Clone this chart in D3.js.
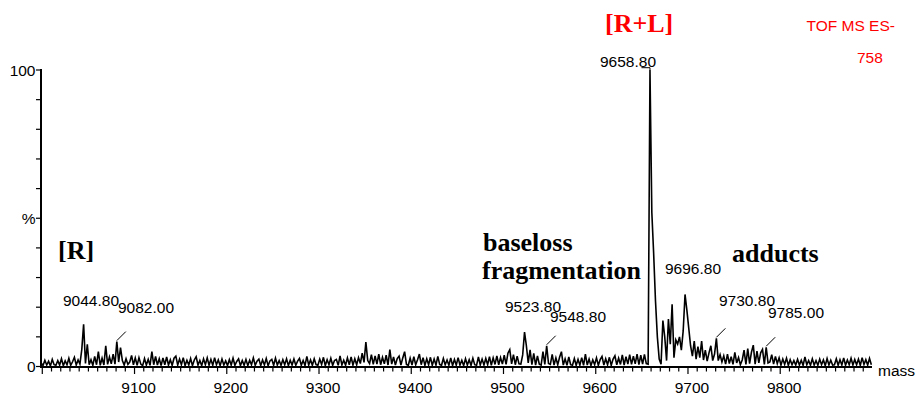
<!DOCTYPE html>
<html><head><meta charset="utf-8">
<script src="https://cdn.jsdelivr.net/npm/d3@7"></script>
<style>
html,body{margin:0;padding:0;background:#fff;}
svg{display:block;}
</style>
</head><body>
<svg id="chart" width="916" height="395"></svg>
<script>
// ---- data ----
const massStart = 8998.8;   // m/z of first sample
const massStep = 2;         // sampling step
const intensity = [
 1.2,0.3,2.1,0.5,1.8,0.2,2.4,0.6,0.4,2.0,
 0.5,2.6,0.3,1.9,0.6,2.8,0.4,1.6,3.1,0.5,
 2.2,0.8,5.7,14.2,1.0,7.5,0.6,2.3,0.4,3.4,
 0.6,5.0,0.4,2.8,0.5,7.0,0.7,3.2,0.9,4.2,
 0.8,8.4,1.5,6.4,2.0,0.5,2.6,0.7,1.5,3.7,
 0.6,2.9,0.4,3.0,0.8,0.3,2.7,0.5,2.4,0.4,
 5.0,0.6,3.4,0.5,2.6,0.3,2.9,0.6,3.2,0.5,
 2.3,0.4,2.8,3.5,0.5,2.5,0.6,3.0,0.3,2.1,
 0.5,2.7,0.3,2.2,3.3,0.5,2.0,0.3,2.6,0.6,
 2.9,0.4,2.4,0.4,3.0,0.6,2.2,0.3,2.5,0.5,
 1.9,0.3,2.3,0.5,2.8,0.4,1.7,2.6,0.3,2.0,
 0.4,2.4,0.3,2.1,0.6,2.9,0.4,1.8,2.5,0.3,
 2.2,0.5,2.7,0.3,1.9,2.4,0.4,2.8,0.5,2.0,
 0.4,2.3,0.6,2.6,0.3,2.1,0.5,2.5,0.4,1.8,
 2.7,0.4,2.0,0.3,3.4,0.5,2.2,0.4,2.6,0.6,
 0.4,2.5,0.7,3.1,0.3,2.3,0.6,2.8,0.4,2.0,
 2.4,0.4,3.6,0.5,2.1,0.4,2.9,0.6,3.2,0.5,
 2.6,0.6,3.0,1.0,4.5,1.4,8.2,2.0,1.0,4.0,
 0.7,3.6,0.8,4.2,0.6,3.1,0.9,3.8,0.5,5.7,
 0.8,3.2,0.5,2.7,3.5,0.5,2.9,5.0,0.7,0.4,
 2.8,0.5,3.3,0.6,2.3,4.2,0.6,3.0,0.4,2.6,
 0.6,3.1,0.4,2.5,0.5,3.4,0.7,0.4,2.7,0.6,
 2.2,0.4,2.9,0.3,2.4,0.5,3.0,0.5,2.1,0.3,
 2.6,0.5,2.3,0.4,2.8,0.6,0.4,3.2,0.5,2.5,
 0.5,2.7,0.6,3.3,0.4,2.9,0.7,3.6,0.6,3.0,
 0.8,3.8,0.7,4.5,5.7,0.9,4.0,0.6,3.5,0.9,
 0.8,3.9,11.6,7.0,1.2,5.6,0.6,4.4,0.5,3.6,
 0.8,0.5,5.0,0.7,7.0,1.0,0.7,4.1,0.5,2.9,
 0.6,3.1,5.0,0.5,2.6,0.4,3.2,0.6,0.4,2.7,
 0.4,2.4,0.5,3.0,0.4,4.2,0.5,2.5,0.3,2.2,
 0.6,2.9,0.4,2.3,3.4,0.5,2.6,0.6,3.1,0.4,
 2.5,3.6,0.6,2.8,0.7,3.9,0.5,3.3,0.8,4.0,
 0.7,3.5,0.9,4.2,0.6,3.8,0.8,4.1,1.0,0.8,
 100,52,38,22,10,2.5,0.8,15.5,10.0,2.0,
 16.0,7.5,21.0,3.0,9.0,7.6,10.0,5.5,12.0,24.3,
 19.0,13.0,7.0,3.5,8.6,2.5,6.7,3.0,8.6,2.2,
 5.5,1.8,4.6,7.0,2.0,4.2,9.5,2.0,4.0,1.5,
 3.6,0.8,4.2,1.0,3.3,0.7,4.8,1.2,3.0,0.6,
 2.2,5.5,0.7,6.0,1.0,4.8,7.2,0.8,5.2,1.2,
 4.6,5.8,0.7,6.5,1.2,1.5,4.0,0.8,3.4,1.0,
 2.9,0.5,2.5,0.7,2.8,0.4,2.3,0.6,2.0,0.5,
 2.4,0.5,2.1,0.4,3.2,0.6,2.0,0.4,2.6,0.5,
 2.0,0.4,2.5,0.6,2.2,0.3,2.7,0.5,2.1,0.5,
 0.6,2.6,0.4,2.3,0.5,2.9,0.4,2.2,0.6,2.8,
 0.5,2.4,0.6,2.5,0.4,3.0,0.7,2.3,0.5,2.7,0.6
];
const xTickLabels = [9100, 9200, 9300, 9400, 9500, 9600, 9700, 9800];
const yTickLabels = ["0", "%", "100"];
const peakMasses = [9044.8, 9082.0, 9523.8, 9548.8, 9658.8, 9696.8, 9730.8, 9785.0];
const peakTexts  = ["9044.80", "9082.00", "9523.80", "9548.80", "9658.80", "9696.80", "9730.80", "9785.00"];
const peakLeaders = [false, true, false, true, false, false, true, true];
const groupTexts = ["[R]", "baseloss", "fragmentation", "adducts"];
const titleTexts = ["[R+L]", "TOF MS ES-", "758"];

// ---- layout ----
const svg = d3.select("#chart");
const x = d3.scaleLinear().domain([8998.6, 9899.5]).range([41, 872]);
const y = d3.scaleLinear().domain([0, 100]).range([366.5, 70]);
const sans = "'Liberation Sans', Arial, sans-serif";
const serif = "'Liberation Serif', 'Times New Roman', serif";

const pts = intensity.map((v, i) => [massStart + i * massStep, v]);

// spectrum
svg.append("path")
  .datum(pts)
  .attr("fill", "none")
  .attr("stroke", "#000")
  .attr("stroke-width", 1.6)
  .attr("stroke-linejoin", "miter")
  .attr("d", d3.line().x(d => x(d[0])).y(d => y(d[1])));

// x axis
const xAxisG = svg.append("g");
xAxisG.append("line").attr("x1", 41).attr("x2", 872).attr("y1", 367).attr("y2", 367)
  .attr("stroke", "#000").attr("stroke-width", 2);
xAxisG.selectAll("line.t").data(d3.range(9000, 9900, 10)).join("line")
  .attr("class", "t")
  .attr("x1", d => x(d)).attr("x2", d => x(d))
  .attr("y1", 367).attr("y2", d => d % 100 === 0 ? 374 : 371.5)
  .attr("stroke", "#000").attr("stroke-width", 1.2);
xAxisG.selectAll("text").data(xTickLabels).join("text")
  .attr("x", d => x(d) + 4).attr("y", 393)
  .attr("text-anchor", "middle")
  .attr("font-family", sans).attr("font-size", 15.5)
  .text(d => d);
svg.append("text").attr("x", 878).attr("y", 376)
  .attr("font-family", sans).attr("font-size", 15.5).text("mass");

// y axis
const yAxisG = svg.append("g");
yAxisG.append("line").attr("x1", 41).attr("x2", 41).attr("y1", 69).attr("y2", 368)
  .attr("stroke", "#000").attr("stroke-width", 2);
yAxisG.selectAll("line.t").data(d3.range(0, 101, 10)).join("line")
  .attr("class", "t")
  .attr("x1", 36).attr("x2", 41)
  .attr("y1", d => y(d)).attr("y2", d => y(d))
  .attr("stroke", "#000").attr("stroke-width", 1.2);
yAxisG.selectAll("text").data([0, 50, 100]).join("text")
  .attr("x", 35.5).attr("y", d => y(d) + 5.5)
  .attr("text-anchor", "end")
  .attr("font-family", sans).attr("font-size", 15.5)
  .text((d, i) => yTickLabels[i]);

// peak labels (text anchor points in px: left x, baseline y)
const peakLabelPos = [[63, 306], [118, 313], [505, 312], [550, 322], [600, 66.5], [665, 274], [719, 306], [768, 317.5]];
// local maximum of the spectrum near a labelled mass
const localMax = m => {
  const near = pts.filter(p => Math.abs(p[0] - m) <= 2.5);
  return near.reduce((a, b) => (b[1] > a[1] ? b : a), near[0]);
};
peakTexts.forEach((t, i) => {
  svg.append("text")
    .attr("x", peakLabelPos[i][0]).attr("y", peakLabelPos[i][1])
    .attr("font-family", sans).attr("font-size", 15.5)
    .text(t);
  if (peakLeaders[i]) {
    const p = localMax(peakMasses[i]);
    const px = x(p[0]), py = y(p[1]);
    svg.append("line")
      .attr("x1", px).attr("y1", py - 1)
      .attr("x2", px + 9).attr("y2", py - 10)
      .attr("stroke", "#000").attr("stroke-width", 1);
  }
});
// main peak bracket
{
  const px = x(peakMasses[4]);
  svg.append("path")
    .attr("d", `M${px - 8.5},67.7H${px}V${y(100)}`)
    .attr("fill", "none").attr("stroke", "#000").attr("stroke-width", 1);
}

// group annotations
const groupPos = [[58, 259], [483, 251], [482, 279], [732, 262]];
groupTexts.forEach((t, i) => {
  svg.append("text")
    .attr("x", groupPos[i][0]).attr("y", groupPos[i][1])
    .attr("font-family", serif).attr("font-weight", "bold").attr("font-size", 26)
    .text(t);
});

// title annotations (red)
svg.append("text").attr("x", 605).attr("y", 31.5)
  .attr("font-family", serif).attr("font-weight", "bold").attr("font-size", 26)
  .attr("fill", "#ff0000").text(titleTexts[0]);
svg.append("text").attr("x", 806.5).attr("y", 31)
  .attr("font-family", sans).attr("font-size", 15.5)
  .attr("fill", "#ff0000").text(titleTexts[1]);
svg.append("text").attr("x", 857).attr("y", 62.7)
  .attr("font-family", sans).attr("font-size", 15.5)
  .attr("fill", "#ff0000").text(titleTexts[2]);
</script>
</body></html>
